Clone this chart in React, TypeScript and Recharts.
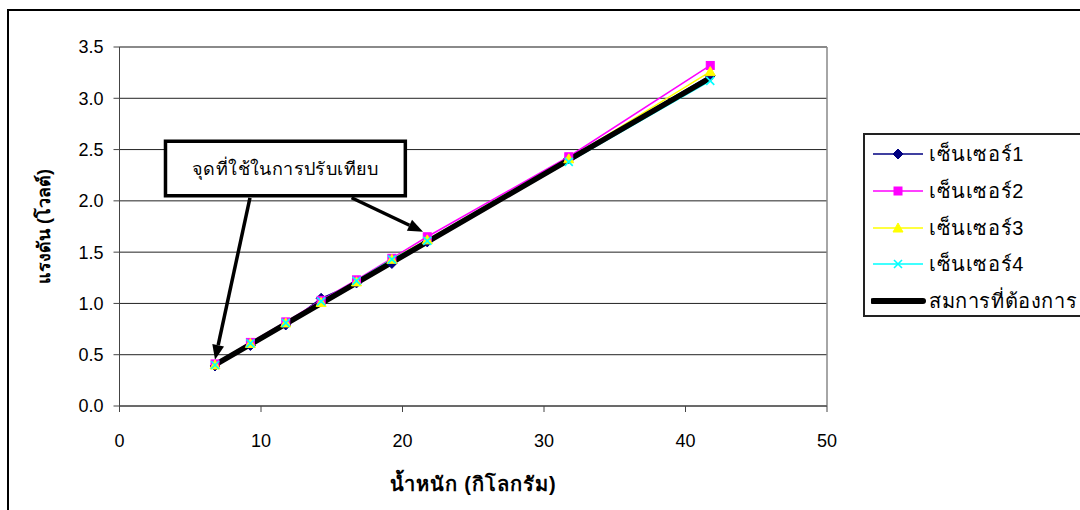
import React from "react";
import {
  LineChart,
  Line,
  XAxis,
  YAxis,
  CartesianGrid,
  ReferenceLine,
  ReferenceArea,
  Legend,
} from "recharts";

// weight (kg) at each calibration step
const weights = [6.75, 9.25, 11.75, 14.25, 16.75, 19.25, 21.75, 31.75, 41.75];
// measured output voltage for each sensor
const sensor1 = [0.39, 0.59, 0.79, 1.05, 1.2, 1.39, 1.6, 2.41, 3.22];
const sensor2 = [0.41, 0.62, 0.82, 1.03, 1.23, 1.44, 1.65, 2.43, 3.32];
const sensor3 = [0.4, 0.61, 0.81, 1.01, 1.21, 1.43, 1.62, 2.41, 3.26];
const sensor4 = [0.4, 0.61, 0.81, 1.02, 1.22, 1.43, 1.61, 2.38, 3.17];
// desired transfer line
const target = [0.4, 0.6, 0.8, 1.0, 1.2, 1.4, 1.6, 2.4, 3.2];

const xTicks = [0, 10, 20, 30, 40, 50];
const yTicks = [0, 0.5, 1, 1.5, 2, 2.5, 3, 3.5];

const seriesNames = ["เซ็นเซอร์1", "เซ็นเซอร์2", "เซ็นเซอร์3", "เซ็นเซอร์4", "สมการที่ต้องการ"];
const seriesColors = ["#000080", "#ff00ff", "#ffff00", "#00ffff", "#000000"];

const noteText = "จุดที่ใช้ในการปรับเทียบ";

const data = weights.map((w, i) => ({
  w,
  s1: sensor1[i],
  s2: sensor2[i],
  s3: sensor3[i],
  s4: sensor4[i],
  eq: target[i],
}));

const FONT = "'Liberation Sans', Arial, 'DejaVu Sans', sans-serif";

type Shape = "diamond" | "square" | "triangle" | "cross" | "none";
const shapes: Shape[] = ["diamond", "square", "triangle", "cross", "none"];

function markerPath(shape: Shape, cx: number, cy: number, color: string, key?: React.Key) {
  if (shape === "diamond") {
    return <path key={key} d={`M${cx},${cy - 5}L${cx + 5},${cy}L${cx},${cy + 5}L${cx - 5},${cy}Z`} fill={color} stroke={color} />;
  }
  if (shape === "square") {
    return <rect key={key} x={cx - 4} y={cy - 4} width={8} height={8} fill={color} stroke={color} />;
  }
  if (shape === "triangle") {
    return <path key={key} d={`M${cx},${cy - 5}L${cx + 5},${cy + 4}L${cx - 5},${cy + 4}Z`} fill={color} stroke={color} />;
  }
  if (shape === "cross") {
    return (
      <path key={key} d={`M${cx - 4},${cy - 4}L${cx + 4},${cy + 4}M${cx + 4},${cy - 4}L${cx - 4},${cy + 4}`} stroke={color} strokeWidth={1.6} fill="none" />
    );
  }
  return <g key={key} />;
}

const dotRenderer = (idx: number) => (props: any) =>
  markerPath(shapes[idx], props.cx, props.cy, seriesColors[idx], props.index);

// straight shaft with a filled head at the second end point
const ArrowShape = (props: any) => {
  const { x1, y1, x2, y2 } = props;
  const dx = x2 - x1;
  const dy = y2 - y1;
  const len = Math.hypot(dx, dy) || 1;
  const ux = dx / len;
  const uy = dy / len;
  const head = 15;
  const half = 6;
  const bx = x2 - ux * head;
  const by = y2 - uy * head;
  return (
    <g>
      <line x1={x1} y1={y1} x2={bx} y2={by} stroke="#000" strokeWidth={3.5} />
      <polygon
        points={`${x2},${y2} ${bx - uy * half},${by + ux * half} ${bx + uy * half},${by - ux * half}`}
        fill="#000"
      />
    </g>
  );
};

const LegendBox = () => (
  <div
    style={{
      border: "2px solid #222",
      width: 240,
      height: 184,
      boxSizing: "border-box",
      paddingTop: 1,
      background: "#fff",
      fontFamily: FONT,
    }}
  >
    {seriesNames.map((name, i) => (
      <div key={name} style={{ display: "flex", alignItems: "center", height: 36.7 }}>
        <svg width={58} height={20} style={{ marginLeft: 6, flex: "none" }}>
          <line
            x1={2}
            y1={10}
            x2={52}
            y2={10}
            stroke={seriesColors[i]}
            strokeWidth={i === 4 ? 6 : 1.5}
            strokeLinecap={i === 4 ? "round" : "butt"}
          />
          {markerPath(shapes[i], 27, 10, seriesColors[i])}
        </svg>
        <span style={{ fontSize: 20, letterSpacing: 0.6, color: "#000", whiteSpace: "nowrap" }}>{name}</span>
      </div>
    ))}
  </div>
);

export default function App() {
  return (
    <div
      style={{
        position: "absolute",
        left: 0,
        top: 0,
        width: 1080,
        height: 510,
        background: "#fff",
        overflow: "hidden",
      }}
    >
      <div
        style={{
          position: "absolute",
          left: 7,
          top: 9,
          width: 1200,
          height: 600,
          border: "2px solid #000",
        }}
      />
      <div style={{ position: "absolute", left: 0, top: 0 }}>
        <LineChart
          width={1080}
          height={510}
          data={data}
          margin={{ top: 47, right: 253, left: 0, bottom: 0 }}
        >
          <CartesianGrid horizontal vertical={false} stroke="#222" strokeOpacity={1} />
          <XAxis
            dataKey="w"
            type="number"
            domain={[0, 50]}
            ticks={xTicks}
            height={104}
            tickSize={6}
            tickMargin={22}
            axisLine={{ stroke: "#444" }}
            tickLine={{ stroke: "#444" }}
            tick={{ fontSize: 18, fill: "#000", fontFamily: FONT }}
            label={{
              value: "น้ำหนัก (กิโลกรัม)",
              position: "insideBottom",
              offset: 19,
              style: { fontSize: 20, letterSpacing: 1, fontWeight: 700, fill: "#000", fontFamily: FONT },
            }}
          />
          <YAxis
            type="number"
            domain={[0, 3.5]}
            ticks={yTicks}
            width={119.5}
            tickSize={6}
            tickMargin={10}
            tickFormatter={(v: number) => v.toFixed(1)}
            axisLine={{ stroke: "#444" }}
            tickLine={{ stroke: "#444" }}
            tick={{ fontSize: 18, fill: "#000", fontFamily: FONT }}
            label={{
              value: "แรงดัน (โวลต์)",
              angle: -90,
              position: "insideLeft",
              offset: 44,
              style: { textAnchor: "middle", fontSize: 18, fontWeight: 700, fill: "#000", fontFamily: FONT },
            }}
          />
          {/* plot-area frame on top and right */}
          <ReferenceLine y={3.5} stroke="#888" strokeWidth={1.5} />
          <ReferenceLine x={50} stroke="#888" strokeWidth={1.5} />

          {/* callout box and its arrows */}
          <ReferenceArea
            x1={3.25}
            x2={20.2}
            y1={2.05}
            y2={2.58}
            fill="#fff"
            fillOpacity={1}
            stroke="#000"
            strokeWidth={3.5}
            ifOverflow="visible"
            label={{ value: noteText, position: "center", fontSize: 18, letterSpacing: 0.4, fill: "#000", fontFamily: FONT }}
          />
          <ReferenceLine
            segment={[{ x: 9.22, y: 2.03 }, { x: 6.75, y: 0.45 }]}
            shape={ArrowShape}
            ifOverflow="visible"
          />
          <ReferenceLine
            segment={[{ x: 16.4, y: 2.03 }, { x: 21.45, y: 1.7 }]}
            shape={ArrowShape}
            ifOverflow="visible"
          />

          {/* sensor lines */}
          <Line type="linear" dataKey="s1" stroke={seriesColors[0]} strokeWidth={1.5} dot={false} activeDot={false} isAnimationActive={false} legendType="none" />
          <Line type="linear" dataKey="s2" stroke={seriesColors[1]} strokeWidth={1.5} dot={false} activeDot={false} isAnimationActive={false} legendType="none" />
          <Line type="linear" dataKey="s3" stroke={seriesColors[2]} strokeWidth={1.5} dot={false} activeDot={false} isAnimationActive={false} legendType="none" />
          <Line type="linear" dataKey="s4" stroke={seriesColors[3]} strokeWidth={1.5} dot={false} activeDot={false} isAnimationActive={false} legendType="none" />
          {/* desired line */}
          <Line type="linear" dataKey="eq" stroke="#000" strokeWidth={5.5} strokeLinecap="round" dot={false} activeDot={false} isAnimationActive={false} legendType="none" />
          {/* markers drawn last so they sit over the thick line */}
          <Line type="linear" dataKey="s1" stroke="none" dot={dotRenderer(0)} activeDot={false} isAnimationActive={false} legendType="none" />
          <Line type="linear" dataKey="s2" stroke="none" dot={dotRenderer(1)} activeDot={false} isAnimationActive={false} legendType="none" />
          <Line type="linear" dataKey="s3" stroke="none" dot={dotRenderer(2)} activeDot={false} isAnimationActive={false} legendType="none" />
          <Line type="linear" dataKey="s4" stroke="none" dot={dotRenderer(3)} activeDot={false} isAnimationActive={false} legendType="none" />

          <Legend
            layout="horizontal"
            align="center"
            verticalAlign="middle"
            content={() => <LegendBox />}
            wrapperStyle={{ left: 863, top: 133, width: 240 }}
          />
        </LineChart>
      </div>
    </div>
  );
}
